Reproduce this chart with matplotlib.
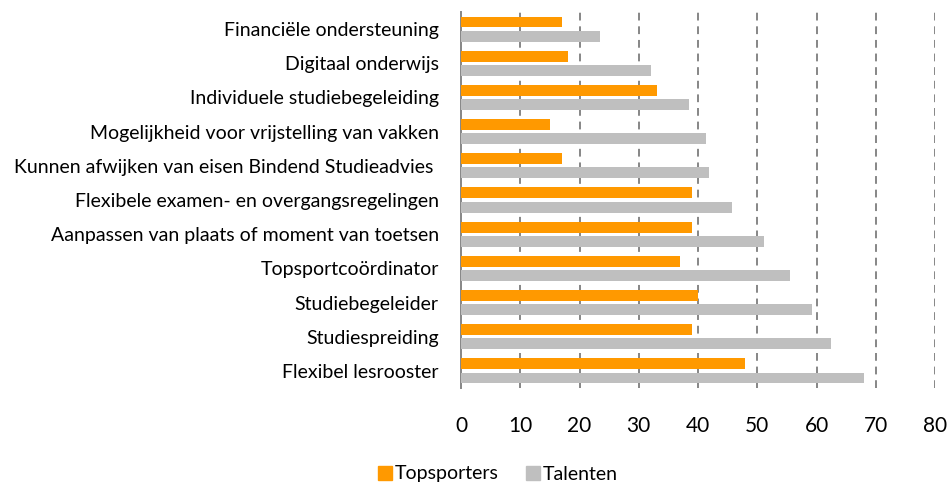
#!/usr/bin/env python3
# -*- coding: utf-8 -*-

# Voorzieningen topsporters vs talenten - horizontale staafgrafiek

import numpy as np
import matplotlib.pyplot as plt
from matplotlib.patches import Patch

# Data (van onder naar boven zoals in de grafiek)
categories = ['Flexibel lesrooster', 'Studiespreiding', 'Studiebegeleider',
              'Topsportcoördinator', 'Aanpassen van plaats of moment van toetsen',
              'Flexibele examen- en overgangsregelingen',
              'Kunnen afwijken van eisen Bindend Studieadvies ',
              'Mogelijkheid voor vrijstelling van vakken',
              'Individuele studiebegeleiding', 'Digitaal onderwijs',
              'Financiële ondersteuning']
topsporters = [48, 39, 40, 37, 39, 39, 17, 15, 33, 18, 17]
talenten = [68, 62.5, 59.3, 55.6, 51.2, 45.8, 41.9, 41.3, 38.5, 32, 23.5]
xticks = [0, 10, 20, 30, 40, 50, 60, 70, 80]

orange = '#FF9900'
grey = '#BFBFBF'
axis_grey = '#868686'

plt.rcParams['font.family'] = ['Lato', 'DejaVu Sans']

fig = plt.figure(figsize=(9.49, 4.84), dpi=100)
ax = fig.add_axes([461/949, 1 - 388/484, (935 - 461)/949, (388 - 12)/484])

y = np.arange(len(categories))
h = 0.32
off = 0.207
ax.barh(y + off, topsporters, height=h, color=orange, label='Topsporters', zorder=3)
ax.barh(y - off, talenten, height=h, color=grey, label='Talenten', zorder=3)

ax.set_ylim(-0.5, len(categories) - 0.5)
ax.set_xlim(0, 80)
ax.set_xticks(xticks)
ax.set_xticklabels([str(t) for t in xticks], fontsize=15)
ax.set_yticks(y)
ax.set_yticklabels(categories, fontsize=14)
ax.tick_params(axis='both', length=0, colors='black')
ax.tick_params(axis='x', pad=20)
ax.tick_params(axis='y', pad=16)

# stippellijnen
for t in xticks[1:]:
    ax.axvline(t, color=axis_grey, lw=1.4, ls=(0, (4, 3)), zorder=1)

for s in ['top', 'right', 'bottom']:
    ax.spines[s].set_visible(False)
ax.spines['left'].set_color(axis_grey)
ax.spines['left'].set_linewidth(1.4)

handles = [Patch(color=orange, label='Topsporters'), Patch(color=grey, label='Talenten')]
fig.legend(handles=handles, loc='center', bbox_to_anchor=(498/949, 1 - 474/484),
           ncol=2, frameon=False, fontsize=14, handlelength=0.7, handleheight=0.7,
           handletextpad=0.15, columnspacing=1.4)

fig.savefig('out.png', dpi=100)
